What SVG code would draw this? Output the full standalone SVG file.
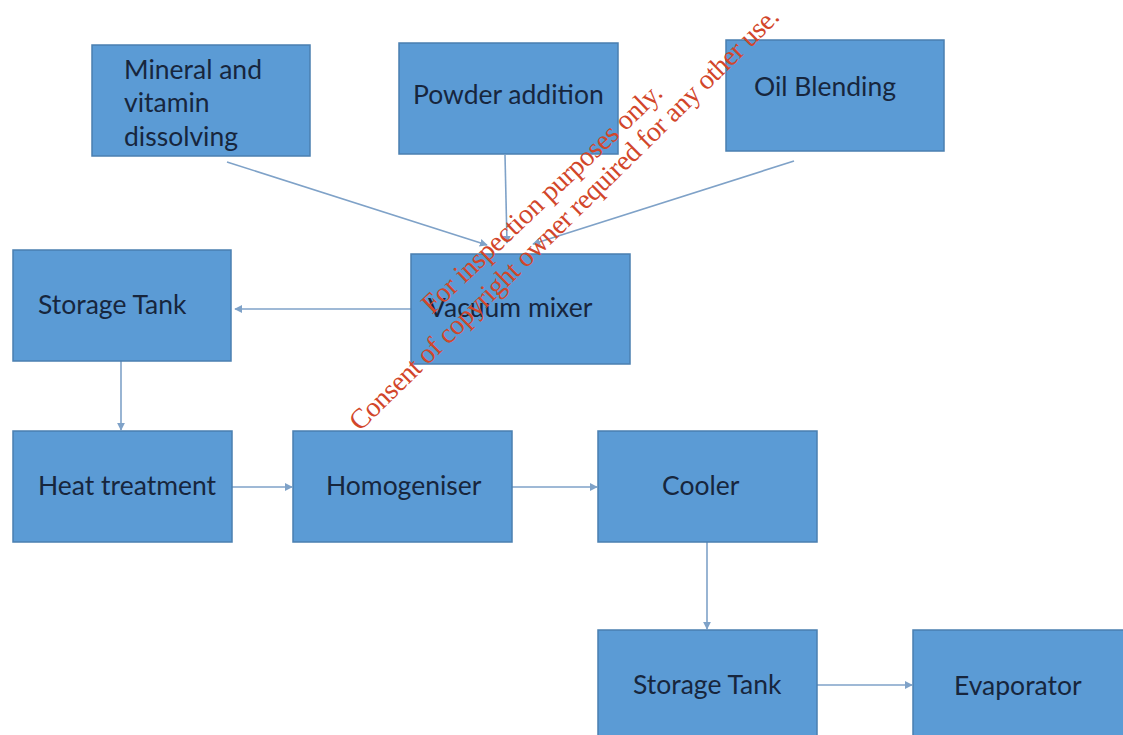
<svg xmlns="http://www.w3.org/2000/svg" width="1123" height="735" viewBox="0 0 1123 735">
<defs>
<style>
.box{fill:#5B9BD5;stroke:#4A7FB0;stroke-width:1.5}
.lbl{font-family:Lato,"Open Sans","Liberation Sans",sans-serif;font-size:26.5px;fill:#17263d}
.con{stroke:#7FA2C8;stroke-width:1.6;fill:none;marker-end:url(#ah)}
.wm{font-family:"Liberation Serif","Times New Roman",serif;font-size:28px;fill:#D2462A}
</style>
<marker id="ah" viewBox="0 0 10 10" refX="9" refY="5" markerWidth="5" markerHeight="5" orient="auto" markerUnits="strokeWidth">
<path d="M0,0 L10,5 L0,10 z" fill="#7FA2C8"/>
</marker>
</defs>
<rect width="1123" height="735" fill="#ffffff"/>
<g id="connectors">
<line class="con" x1="227" y1="162" x2="487" y2="245"/>
<line class="con" x1="505" y1="155" x2="507" y2="243"/>
<line class="con" x1="794" y1="161" x2="533" y2="244"/>
<line class="con" x1="411" y1="309" x2="235" y2="309"/>
<line class="con" x1="121" y1="361" x2="121" y2="430"/>
<line class="con" x1="232" y1="487" x2="292" y2="487"/>
<line class="con" x1="512" y1="487" x2="597" y2="487"/>
<line class="con" x1="707" y1="542" x2="707" y2="629"/>
<line class="con" x1="817" y1="685" x2="912" y2="685"/>
</g>
<g id="mineral"><rect class="box" x="92" y="45" width="218" height="111"/>
<text class="lbl" x="124" y="79">Mineral and</text><text class="lbl" x="124" y="112">vitamin</text><text class="lbl" x="124" y="146">dissolving</text></g>
<g id="powder"><rect class="box" x="399" y="43" width="219" height="111"/><text class="lbl" x="413" y="104">Powder addition</text></g>
<g id="oil"><rect class="box" x="726" y="40" width="218" height="111"/><text class="lbl" x="754" y="96">Oil Blending</text></g>
<g id="vacuum"><rect class="box" x="411" y="254" width="219" height="110"/><text class="lbl" x="428" y="317">Vacuum mixer</text></g>
<g id="storage1"><rect class="box" x="13" y="250" width="218" height="111"/><text class="lbl" x="38" y="314">Storage Tank</text></g>
<g id="heat"><rect class="box" x="13" y="431" width="219" height="111"/><text class="lbl" x="38" y="495">Heat treatment</text></g>
<g id="homogeniser"><rect class="box" x="293" y="431" width="219" height="111"/><text class="lbl" x="326" y="495">Homogeniser</text></g>
<g id="cooler"><rect class="box" x="598" y="431" width="219" height="111"/><text class="lbl" x="662" y="495">Cooler</text></g>
<g id="storage2"><rect class="box" x="598" y="630" width="219" height="115"/><text class="lbl" x="633" y="694">Storage Tank</text></g>
<g id="evaporator"><rect class="box" x="913" y="630" width="220" height="115"/><text class="lbl" x="954" y="695">Evaporator</text></g>
<g id="watermark">
<text class="wm" x="0" y="0" textLength="320" lengthAdjust="spacing" transform="translate(432,315) rotate(-43.5)">For inspection purposes only.</text>
<text class="wm" x="0" y="0" textLength="590" lengthAdjust="spacing" transform="translate(360,432) rotate(-44.5)">Consent of copyright owner required for any other use.</text>
</g>
</svg>
